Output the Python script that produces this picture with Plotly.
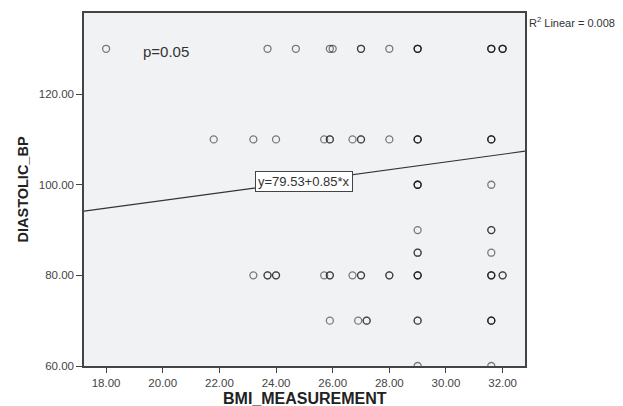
import plotly.graph_objects as go

# BMI values (x) grouped by diastolic BP level (y); repeats = overlapping cases
bmi_130 = [18.0, 23.7, 24.7, 25.9, 26.0, 27.0, 27.0, 28.0, 29.0, 29.0, 29.0, 31.6, 31.6, 31.6, 32.0, 32.0, 32.0]
bmi_110 = [21.8, 23.2, 24.0, 25.7, 25.9, 25.9, 26.7, 27.0, 27.0, 28.0, 29.0, 29.0, 29.0, 31.6, 31.6, 31.6]
bmi_100 = [29.0, 29.0, 29.0, 31.6]
bmi_90 = [29.0, 31.6, 31.6]
bmi_85 = [29.0, 29.0, 31.6]
bmi_80 = [23.2, 23.7, 23.7, 24.0, 24.0, 25.7, 25.9, 25.9, 26.7, 27.0, 27.0, 28.0, 28.0,
          29.0, 29.0, 29.0, 31.6, 31.6, 31.6, 32.0, 32.0]
bmi_70 = [25.9, 26.9, 27.2, 27.2, 29.0, 29.0, 31.6, 31.6, 31.6]
bmi_60 = [29.0, 31.6]

groups = {130: bmi_130, 110: bmi_110, 100: bmi_100, 90: bmi_90,
          85: bmi_85, 80: bmi_80, 70: bmi_70, 60: bmi_60}

intercept = 79.53
slope = 0.85
r2 = 0.008
p_value = 0.05

x_range = [17.22, 32.79]
y_range = [60, 137.9]
x_ticks = [18, 20, 22, 24, 26, 28, 30, 32]
y_ticks = [60, 80, 100, 120]

xs, ys = [], []
for dbp, vals in groups.items():
    for v in vals:
        xs.append(v)
        ys.append(dbp)

FONT = "Liberation Sans, Arial"
PW, PH = 441, 353  # plot area size in px

fig = go.Figure()

line_x = x_range
line_y = [intercept + slope * v for v in line_x]
fig.add_trace(go.Scatter(x=line_x, y=line_y, mode="lines",
                         line=dict(color="#333333", width=1.2),
                         hoverinfo="skip", showlegend=False))

fig.add_trace(go.Scatter(x=xs, y=ys, mode="markers",
                         marker=dict(symbol="circle-open", size=7,
                                     color="rgba(0,0,0,0.5)",
                                     line=dict(width=1.3, color="rgba(0,0,0,0.5)")),
                         showlegend=False, cliponaxis=True))

eq_x = 25.0
fig.add_annotation(x=eq_x, y=intercept + slope * eq_x, xref="x", yref="y",
                   text=f"y={intercept:.2f}+{slope:.2f}*x", showarrow=False,
                   font=dict(family=FONT, size=13, color="#333333"),
                   bgcolor="white", bordercolor="#444444", borderwidth=1, borderpad=2)

fig.add_annotation(x=20.12, y=129.4, xref="x", yref="y",
                   text=f"p={p_value:.2f}", showarrow=False,
                   font=dict(family=FONT, size=15, color="#333333"))

fig.add_annotation(x=1 + 2 / PW, y=1 - 9 / PH, xref="paper", yref="paper",
                   xanchor="left", yanchor="middle",
                   text=f"R<sup>2</sup> Linear = {r2:.3f}", showarrow=False,
                   font=dict(family=FONT, size=11, color="#333333"))

fig.add_annotation(x=0.5, y=-32 / PH, xref="paper", yref="paper",
                   xanchor="center", yanchor="middle",
                   text="<b>BMI_MEASUREMENT</b>", showarrow=False,
                   font=dict(family=FONT, size=16, color="#222222"))

fig.add_annotation(x=-62 / PW, y=0.5, xref="paper", yref="paper",
                   xanchor="center", yanchor="middle", textangle=-90,
                   text="<b>DIASTOLIC_BP</b>", showarrow=False,
                   font=dict(family=FONT, size=14.5, color="#222222"))

# page body has an 8px margin, so the figure is shrunk by that amount
fig.update_layout(
    width=615, height=398,
    margin=dict(l=76, r=98, t=5, b=40),
    paper_bgcolor="white",
    plot_bgcolor="#f1f2f4",
    font=dict(family=FONT, color="#333333"),
    xaxis=dict(range=x_range, tickvals=x_ticks,
               ticktext=[f"{v:.2f}" for v in x_ticks],
               showgrid=False, zeroline=False, automargin=False,
               showline=True, linecolor="#444444", linewidth=1.5, mirror=True,
               ticks="outside", ticklen=5, tickcolor="#444444",
               tickfont=dict(size=11.5, color="#444444")),
    yaxis=dict(range=y_range, tickvals=y_ticks,
               ticktext=[f"{v:.2f}" for v in y_ticks],
               showgrid=False, zeroline=False, automargin=False,
               showline=True, linecolor="#444444", linewidth=1.5, mirror=True,
               ticks="outside", ticklen=6, tickcolor="#444444",
               tickfont=dict(size=11.5, color="#444444")),
)

fig.write_html("out.html")
